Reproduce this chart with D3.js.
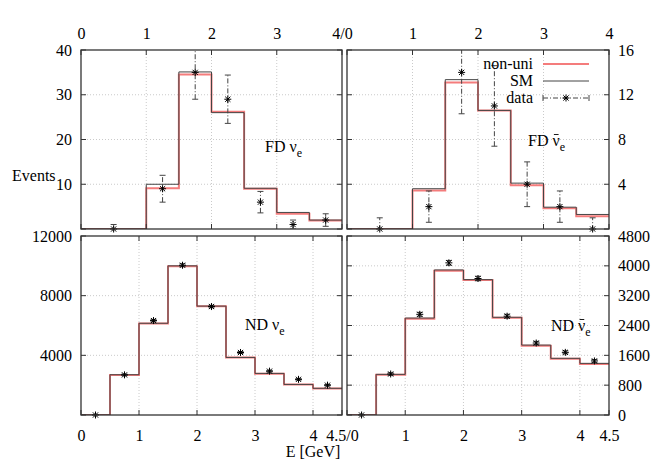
<!DOCTYPE html>
<html lang="en">
<head>
<meta charset="UTF-8">
<title>FD / ND spectra</title>
<style>
  body { margin: 0; background: #fff; }
  svg text { font-family: "Liberation Serif", "Times New Roman", "DejaVu Serif", serif; font-size: 16px; fill: #000; }
</style>
</head>
<body>
<svg id="chart" width="664" height="465"></svg>
<script src="https://d3js.org/d3.v7.min.js"></script>
<script>
// ---- data ----
// far detector, bins of the reconstructed energy (GeV)
const fdEdges = [0, 1, 1.5, 2, 2.5, 3, 3.5, 4];
const fdNuSM = [0, 10.0, 35.1, 26.0, 9.1, 3.7, 2.0];
const fdNuNonUni = [0, 9.1, 34.5, 26.2, 9.0, 3.4, 1.9];
const fdNubarSM = [0, 3.6, 13.35, 10.6, 4.1, 1.95, 1.3];
const fdNubarNonUni = [0, 3.45, 13.1, 10.6, 3.9, 1.85, 1.15];

const fdDataE = [0.5, 1.25, 1.75, 2.25, 2.75, 3.25, 3.75];
const fdNuData = [0, 9, 35, 29, 6, 1, 2];
const fdNuErr = [1, 3, 6, 5.4, 2.4, 1, 1.4];
const fdNubarData = [0, 2, 14, 11, 4, 2, 0];
const fdNubarErr = [1, 1.4, 3.7, 3.6, 2, 1.4, 1];

// near detector
const ndEdges = [0, 0.5, 1, 1.5, 2, 2.5, 3, 3.5, 4, 4.5];
const ndNuSM = [0, 2700, 6150, 10000, 7300, 3860, 2790, 2050, 1790];
const ndNuNonUni = [0, 2680, 6140, 9980, 7290, 3850, 2760, 2040, 1780];
const ndNubarSM = [0, 1090, 2600, 3890, 3630, 2620, 1875, 1520, 1385];
const ndNubarNonUni = [0, 1080, 2580, 3870, 3620, 2610, 1860, 1510, 1365];

const ndDataE = [0.25, 0.75, 1.25, 1.75, 2.25, 2.75, 3.25, 3.75, 4.25];
const ndNuData = [0, 2690, 6330, 10040, 7270, 4190, 2940, 2390, 2000];
const ndNuErr = [0, 52, 80, 100, 85, 65, 54, 49, 45];
const ndNubarData = [0, 1100, 2700, 4080, 3660, 2650, 1930, 1680, 1450];
const ndNubarErr = [0, 33, 52, 64, 60, 51, 44, 41, 38];

// tick values
const fdXTicks = [0, 1, 2, 3, 4];
const ndXTicks = [0, 1, 2, 3, 4, 4.5];
const fdNuYTicks = [0, 10, 20, 30, 40];
const fdNubarYTicks = [0, 4, 8, 12, 16];
const ndNuYTicks = [0, 4000, 8000, 12000];
const ndNubarYTicks = [0, 800, 1600, 2400, 3200, 4000, 4800];

const RED = "#f47c7c";
const SMC = "#444";
const svg = d3.select("#chart");
const defs = svg.append("defs");

const panels = [
  { id: "tl", px: [81, 342], py: [229, 50], xd: [0, 4], yd: [0, 40],
    edges: fdEdges, sm: fdNuSM, nu: fdNuNonUni, de: fdDataE, dv: fdNuData, err: fdNuErr,
    xt: fdXTicks, yt: fdNuYTicks, xSide: "top", ySide: "left",
    xfmt: d => d === 4 ? "4/0" : d, yfmt: d => d === 0 ? "" : d,
    label: "FD ", bar: false, lx: 265, ly: 152 },
  { id: "tr", px: [347, 609], py: [229, 50], xd: [0, 4], yd: [0, 16],
    edges: fdEdges, sm: fdNubarSM, nu: fdNubarNonUni, de: fdDataE, dv: fdNubarData, err: fdNubarErr,
    xt: fdXTicks, yt: fdNubarYTicks, xSide: "top", ySide: "right",
    xfmt: d => d === 0 ? "" : d, yfmt: d => d === 0 ? "" : d,
    label: "FD ", bar: true, lx: 528, ly: 146, legend: true },
  { id: "bl", px: [81, 342], py: [415, 236], xd: [0, 4.5], yd: [0, 12000],
    edges: ndEdges, sm: ndNuSM, nu: ndNuNonUni, de: ndDataE, dv: ndNuData, err: ndNuErr,
    xt: ndXTicks, yt: ndNuYTicks, xSide: "bottom", ySide: "left",
    xfmt: d => d === 4.5 ? "4.5/0" : d, yfmt: d => d === 0 ? "" : d,
    label: "ND ", bar: false, lx: 245, ly: 330 },
  { id: "br", px: [347, 609], py: [415, 236], xd: [0, 4.5], yd: [0, 4800],
    edges: ndEdges, sm: ndNubarSM, nu: ndNubarNonUni, de: ndDataE, dv: ndNubarData, err: ndNubarErr,
    xt: ndXTicks, yt: ndNubarYTicks, xSide: "bottom", ySide: "right",
    xfmt: d => d === 0 ? "" : d, yfmt: d => d,
    label: "ND ", bar: true, lx: 551, ly: 331 }
];

// asterisk marker (gnuplot point type 3)
const star = "M-3.5,0H3.5M0,-3.5V3.5M-2.6,-2.6L2.6,2.6M-2.6,2.6L2.6,-2.6";

panels.forEach(p => {
  const x = d3.scaleLinear().domain(p.xd).range(p.px);
  const y = d3.scaleLinear().domain(p.yd).range(p.py);
  const g = svg.append("g").attr("class", "panel-" + p.id);

  defs.append("clipPath").attr("id", "clip-" + p.id)
    .append("rect")
    .attr("x", p.px[0]).attr("y", p.py[1])
    .attr("width", p.px[1] - p.px[0]).attr("height", p.py[0] - p.py[1]);

  // dotted grid
  g.append("g").selectAll("line")
    .data(p.xt.filter(d => d > p.xd[0] && d < p.xd[1]))
    .join("line")
    .attr("x1", d => x(d)).attr("x2", d => x(d))
    .attr("y1", p.py[0]).attr("y2", p.py[1])
    .attr("stroke", "#bdbdbd").attr("stroke-width", 0.8).attr("stroke-dasharray", "1,2");
  g.append("g").selectAll("line")
    .data(p.yt.filter(d => d > p.yd[0] && d < p.yd[1]))
    .join("line")
    .attr("x1", p.px[0]).attr("x2", p.px[1])
    .attr("y1", d => y(d)).attr("y2", d => y(d))
    .attr("stroke", "#bdbdbd").attr("stroke-width", 0.8).attr("stroke-dasharray", "1,2");

  // histograms as steps
  const steps = vals => d3.line()
    .x(d => x(d[0])).y(d => y(d[1]))
    .curve(d3.curveStepAfter)(
      vals.map((v, i) => [p.edges[i], v]).concat([[p.edges[vals.length], vals[vals.length - 1]]])
    );
  const hist = g.append("g").attr("clip-path", `url(#clip-${p.id})`);
  hist.append("path").attr("d", steps(p.nu))
    .attr("fill", "none").attr("stroke", RED).attr("stroke-width", 2);
  hist.append("path").attr("d", steps(p.sm))
    .attr("fill", "none").attr("stroke", SMC).attr("stroke-width", 1);

  // error bars
  const eb = g.append("g").attr("clip-path", `url(#clip-${p.id})`);
  p.de.forEach((e, i) => {
    const cx = x(e), lo = y(p.dv[i] - p.err[i]), hi = y(p.dv[i] + p.err[i]);
    eb.append("line").attr("x1", cx).attr("x2", cx).attr("y1", lo).attr("y2", hi)
      .attr("stroke", "#444").attr("stroke-width", 1).attr("stroke-dasharray", "5,2,1,2");
    [lo, hi].forEach(yy => eb.append("line")
      .attr("x1", cx - 3).attr("x2", cx + 3).attr("y1", yy).attr("y2", yy)
      .attr("stroke", "#444").attr("stroke-width", 1));
  });
  g.append("g").selectAll("path")
    .data(p.de.map((e, i) => [e, p.dv[i]]))
    .join("path")
    .attr("d", star)
    .attr("transform", d => `translate(${x(d[0])},${y(d[1])})`)
    .attr("fill", "none").attr("stroke", "#000").attr("stroke-width", 1);

  // frame
  g.append("rect")
    .attr("x", p.px[0]).attr("y", p.py[1])
    .attr("width", p.px[1] - p.px[0]).attr("height", p.py[0] - p.py[1])
    .attr("fill", "none").attr("stroke", "#333").attr("stroke-width", 1.3);

  // inward ticks, mirrored on the opposite side
  const tk = g.append("g").attr("stroke", "#333").attr("stroke-width", 1);
  p.xt.forEach(d => {
    tk.append("line").attr("x1", x(d)).attr("x2", x(d)).attr("y1", p.py[0]).attr("y2", p.py[0] - 5);
    tk.append("line").attr("x1", x(d)).attr("x2", x(d)).attr("y1", p.py[1]).attr("y2", p.py[1] + 5);
  });
  p.yt.forEach(d => {
    tk.append("line").attr("x1", p.px[0]).attr("x2", p.px[0] + 5).attr("y1", y(d)).attr("y2", y(d));
    tk.append("line").attr("x1", p.px[1]).attr("x2", p.px[1] - 5).attr("y1", y(d)).attr("y2", y(d));
  });

  // tick labels through d3 axes (no lines, labels only)
  const xAxis = (p.xSide === "top" ? d3.axisTop(x) : d3.axisBottom(x))
    .tickValues(p.xt).tickFormat(p.xfmt).tickSize(0).tickPadding(p.xSide === "top" ? 11 : 15);
  g.append("g")
    .attr("transform", `translate(0,${p.xSide === "top" ? p.py[1] : p.py[0]})`)
    .call(xAxis)
    .call(a => a.select(".domain").remove())
    .call(a => a.attr("font-family", null).attr("font-size", null));

  const yAxis = (p.ySide === "left" ? d3.axisLeft(y) : d3.axisRight(y))
    .tickValues(p.yt).tickFormat(p.yfmt).tickSize(0).tickPadding(9);
  g.append("g")
    .attr("transform", `translate(${p.ySide === "left" ? p.px[0] : p.px[1]},0)`)
    .call(yAxis)
    .call(a => a.select(".domain").remove())
    .call(a => a.attr("font-family", null).attr("font-size", null));

  // panel label: "FD νe" / "ND ν̄e", the bar drawn as a short line over the ν
  const t = g.append("text").attr("x", p.lx).attr("y", p.ly);
  t.append("tspan").text(p.label);
  t.append("tspan").text("ν");
  t.append("tspan").attr("dy", 5).attr("font-size", "12px").text("e");
  if (p.bar) {
    const box = t.node().getExtentOfChar(p.label.length);
    g.append("line")
      .attr("x1", box.x + box.width * 0.2).attr("x2", box.x + box.width * 0.85)
      .attr("y1", p.ly - 11.5).attr("y2", p.ly - 11.5)
      .attr("stroke", "#000").attr("stroke-width", 0.9);
  }

  // legend
  if (p.legend) {
    const lg = g.append("g");
    const rows = [["non-uni", 64], ["SM", 81], ["data", 98]];
    rows.forEach(r => lg.append("text").attr("x", 533).attr("y", r[1] + 5)
      .attr("text-anchor", "end").text(r[0]));
    lg.append("line").attr("x1", 543).attr("x2", 589).attr("y1", 64).attr("y2", 64)
      .attr("stroke", RED).attr("stroke-width", 2);
    lg.append("line").attr("x1", 543).attr("x2", 589).attr("y1", 81).attr("y2", 81)
      .attr("stroke", SMC).attr("stroke-width", 1);
    lg.append("line").attr("x1", 543).attr("x2", 589).attr("y1", 98).attr("y2", 98)
      .attr("stroke", "#444").attr("stroke-width", 1).attr("stroke-dasharray", "5,2,1,2");
    [543, 589].forEach(xx => lg.append("line").attr("x1", xx).attr("x2", xx)
      .attr("y1", 95).attr("y2", 101).attr("stroke", "#444"));
    lg.append("path").attr("d", star).attr("transform", "translate(566,98)")
      .attr("fill", "none").attr("stroke", "#000");
  }
});

// axis titles
svg.append("text").attr("x", 12).attr("y", 181).text("Events");
svg.append("text").attr("x", 313).attr("y", 457).attr("text-anchor", "middle").text("E [GeV]");
</script>
</body>
</html>
